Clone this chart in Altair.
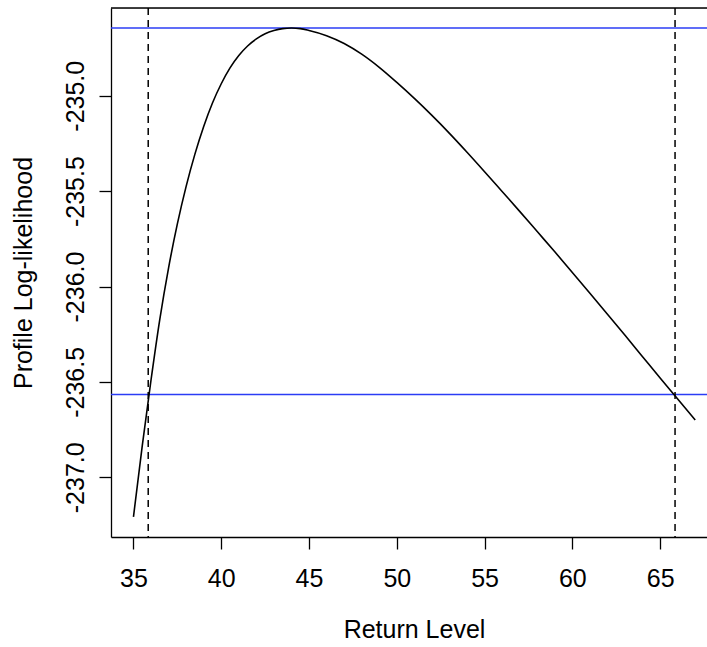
import altair as alt
import pandas as pd

# Profile log-likelihood curve
return_level = [35.0, 35.5, 36.0, 36.5, 37.0, 37.5, 38.0, 38.5, 39.0, 39.5,
                40.0, 40.5, 41.0, 41.5, 42.0, 42.5, 43.0, 43.5, 44.0, 44.5,
                45.0, 46.0, 47.0, 48.0, 49.0, 50.0, 51.0, 52.0, 53.0, 54.0,
                55.0, 56.0, 57.0, 58.0, 59.0, 60.0, 61.0, 62.0, 63.0, 64.0,
                65.0, 66.0, 67.0]
profile_ll = [-237.207, -236.835, -236.49, -236.172, -235.902, -235.672, -235.475, -235.306, -235.161, -235.038,
              -234.937, -234.854, -234.789, -234.739, -234.702, -234.675, -234.658, -234.648, -234.645, -234.648,
              -234.658, -234.685, -234.726, -234.782, -234.851, -234.93, -235.014, -235.103, -235.197, -235.296,
              -235.398, -235.502, -235.606, -235.712, -235.818, -235.926, -236.035, -236.145, -236.256, -236.368,
              -236.48, -236.59, -236.7]

h_levels = [-234.645, -236.566]          # max and max - chi2(0.95,1)/2
ci_bounds = [35.84, 65.85]               # confidence interval bounds

x_ticks = [35, 40, 45, 50, 55, 60, 65]
y_ticks = [-237.0, -236.5, -236.0, -235.5, -235.0]

x_domain = [33.72, 67.67]
y_domain = [-237.313, -234.54]

W, H = 596, 529
FONT = "Liberation Sans"
FS = 25

curve_df = pd.DataFrame({"x": return_level, "y": profile_ll})
h_df = pd.DataFrame({"y": h_levels})
v_df = pd.DataFrame({"x": ci_bounds})

xs = alt.Scale(domain=x_domain, nice=False, zero=False)
ys = alt.Scale(domain=y_domain, nice=False, zero=False)

x_axis = alt.Axis(values=x_ticks, title="Return Level", grid=False,
                  domainColor="black", domainWidth=1.3, tickColor="black", tickWidth=1.3,
                  tickSize=12, labelPadding=17, labelFont=FONT, labelFontSize=FS,
                  labelColor="black", labelFlush=False, labelOverlap=False,
                  titleFont=FONT, titleFontSize=FS, titleFontWeight="normal", titleColor="black",
                  titleX=303, titleY=100, titleBaseline="alphabetic", titleAlign="center")
y_axis = alt.Axis(values=y_ticks, title="Profile Log-likelihood", grid=False,
                  labelExpr="replace(format(datum.value, '.1f'), '\u2212', '-')",
                  domainColor="black", domainWidth=1.3, tickColor="black", tickWidth=1.3,
                  tickSize=12, labelPadding=16, labelAngle=270, labelAlign="center",
                  labelBaseline="alphabetic", labelFont=FONT, labelFontSize=FS,
                  labelColor="black", labelFlush=False, labelOverlap=False,
                  titleFont=FONT, titleFontSize=FS, titleFontWeight="normal", titleColor="black",
                  titleAngle=270, titleX=-88, titleY=H / 2, titleBaseline="middle",
                  titleAlign="center")

curve = alt.Chart(curve_df).mark_line(color="black", strokeWidth=1.6, interpolate="monotone").encode(
    x=alt.X("x:Q", scale=xs, axis=x_axis),
    y=alt.Y("y:Q", scale=ys, axis=y_axis),
)

hlines = alt.Chart(h_df).mark_rule(color="#2b3cf5", strokeWidth=1.4).encode(
    y=alt.Y("y:Q", scale=ys)
)

vlines = alt.Chart(v_df).mark_rule(color="black", strokeWidth=1.5, strokeDash=[7, 5]).encode(
    x=alt.X("x:Q", scale=xs)
)

top_border = alt.Chart(pd.DataFrame({"a": [0]})).mark_rule(color="black", strokeWidth=1.3).encode(
    x=alt.value(0), x2=alt.value(W), y=alt.value(0)
)

chart = alt.layer(hlines, vlines, curve, top_border).properties(
    width=W, height=H,
    autosize=alt.AutoSizeParams(type="none"),
    padding={"left": 111, "top": 8, "right": 0, "bottom": 110},
).configure_view(stroke=None).configure(background="white")

chart.save("out.html", embed_options={"renderer": "svg", "actions": False})
